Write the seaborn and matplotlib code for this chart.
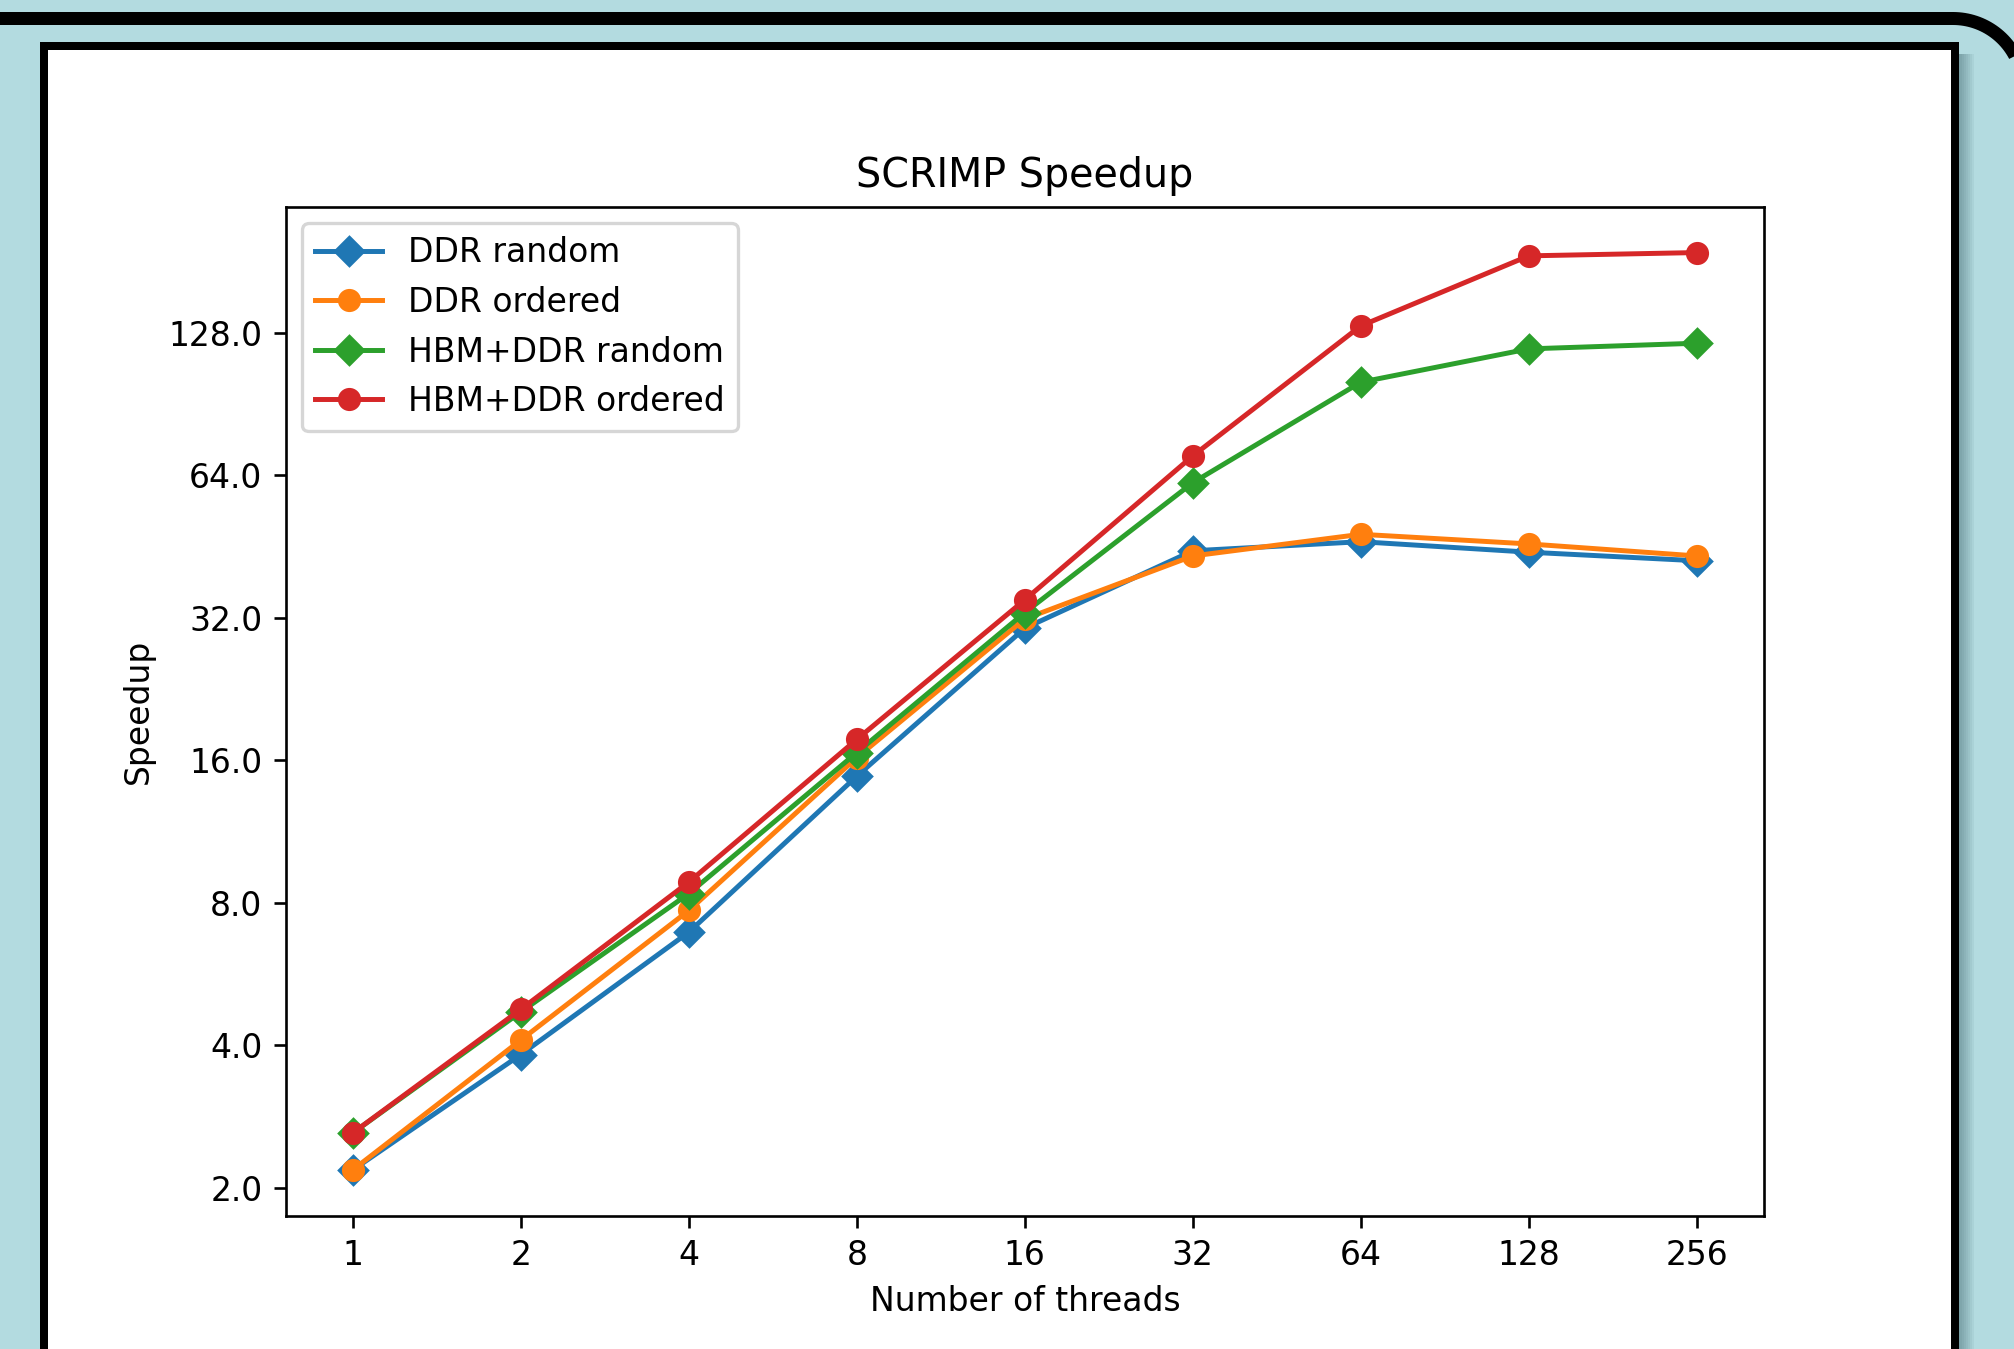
import numpy as np
import pandas as pd
import matplotlib
matplotlib.use("Agg")
import matplotlib.pyplot as plt
import seaborn as sns
from matplotlib.patches import Rectangle

# ================================
# data
# ================================
threads = [1, 2, 4, 8, 16, 32, 64, 128, 256]
ddr_random = [2.18, 3.82, 6.93, 14.8, 30.4, 44.3, 46.3, 44.0, 42.2]
ddr_ordered = [2.18, 4.10, 7.7, 16.2, 31.8, 43.2, 48.0, 45.8, 43.2]
hbm_random = [2.61, 4.7, 8.36, 16.6, 32.8, 61.7, 100.6, 118.3, 121.6]
hbm_ordered = [2.61, 4.76, 8.84, 17.7, 34.9, 70.3, 132.3, 186.0, 189.0]

series_names = ["DDR random", "DDR ordered", "HBM+DDR random", "HBM+DDR ordered"]
series_vals = [ddr_random, ddr_ordered, hbm_random, hbm_ordered]
series_markers = ["D", "o", "D", "o"]
series_colors = ["#1f77b4", "#ff7f0e", "#2ca02c", "#d62728"]

y_ticks = [2, 4, 8, 16, 32, 64, 128]

W, H = 2014, 1349
DPI = 238

fig = plt.figure(figsize=(W / DPI, H / DPI), dpi=DPI)
fig.patch.set_facecolor("#b3dbe0")

# background: screenshot frame, drawn in pixel units
bg = fig.add_axes([0, 0, 1, 1], zorder=0)
bg.set_xlim(0, W)
bg.set_ylim(H, 0)
bg.axis("off")

# outer frame: top edge plus rounded top-right corner
r, cx, top = 70, 1953, 18.5
phi = np.linspace(0, np.pi / 2, 40)
fx = np.concatenate([[-50], cx + r * np.sin(phi), [cx + r]])
fy = np.concatenate([[top], top + r - r * np.cos(phi), [1450]])
bg.plot(fx, fy, color="black", linewidth=13 * 72 / DPI,
        solid_joinstyle="round", solid_capstyle="butt")

# soft shadow on the right of the white panel
for k in range(1, 9):
    bg.add_patch(Rectangle((1950, 54), 8 + 2 * k, 1500,
                           facecolor="#244a50", edgecolor="none", alpha=0.06))

# white panel with thick black border
bg.add_patch(Rectangle((44, 46), 1910.5, 1500, facecolor="white",
                       edgecolor="black", linewidth=8 * 72 / DPI))

# ================================
# chart
# ================================
ax = fig.add_axes([285.7 / W, 1 - 1215.7 / H, (1764 - 285.7) / W,
                   (1215.7 - 206.7) / H], zorder=1)

for name, vals, mk, col in zip(series_names, series_vals, series_markers, series_colors):
    df = pd.DataFrame({"threads": threads, "speedup": vals})
    sns.lineplot(data=df, x="threads", y="speedup", ax=ax, color=col,
                 marker=mk, markeredgecolor=col, markeredgewidth=1.0,
                 linewidth=1.5, markersize=6, label=name)

ax.set_xscale("log", base=2)
ax.set_yscale("log", base=2)
ax.set_xticks(threads, labels=[str(t) for t in threads])
ax.set_yticks(y_ticks, labels=[f"{v:.1f}" for v in y_ticks])
ax.minorticks_off()

ax.set_title("SCRIMP Speedup")
ax.set_xlabel("Number of threads")
ax.set_ylabel("Speedup")
ax.legend(loc="upper left")

fig.savefig("out.png", dpi=DPI, facecolor=fig.get_facecolor())
